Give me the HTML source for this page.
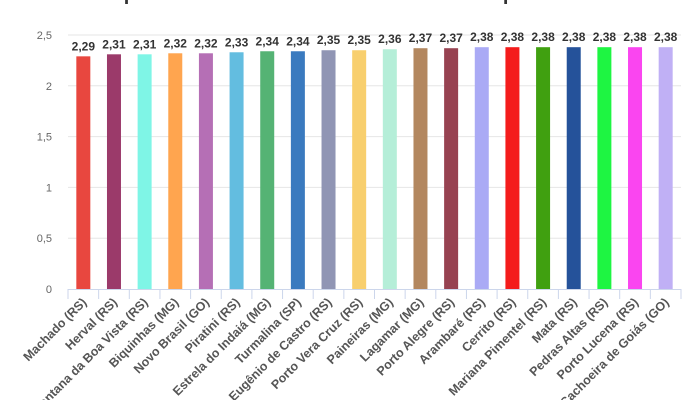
<!DOCTYPE html>
<html><head><meta charset="utf-8"><style>
body{margin:0;background:#fff;}
svg{display:block;font-family:"Liberation Sans",sans-serif;}
</style></head><body>
<svg id="chart" width="700" height="400">
<text x="350" y="0" text-anchor="middle" font-size="20" font-weight="bold" fill="#333">Municípios brasileiros com menos moradores por residência</text>
<g id="grid"></g><g id="bars"></g><g id="xaxis"></g>
</svg>
<script>
const categories=["Machado (RS)","Herval (RS)","Santana da Boa Vista (RS)","Biquinhas (MG)","Novo Brasil (GO)","Piratini (RS)","Estrela do Indaiá (MG)","Turmalina (SP)","Eugênio de Castro (RS)","Porto Vera Cruz (RS)","Paineiras (MG)","Lagamar (MG)","Porto Alegre (RS)","Arambaré (RS)","Cerrito (RS)","Mariana Pimentel (RS)","Mata (RS)","Pedras Altas (RS)","Porto Lucena (RS)","Cachoeira de Goiás (GO)"];
const values=[2.29,2.31,2.31,2.32,2.32,2.33,2.34,2.34,2.35,2.35,2.36,2.37,2.37,2.38,2.38,2.38,2.38,2.38,2.38,2.38];
const yTicks=[0,0.5,1,1.5,2,2.5];
const colors=["#e8473f","#9b3a6a","#7ff5e6","#ffa54f","#b56fb5","#63bde0","#55b374","#3a7abf","#9095b4","#f8cf6e","#b5eed8","#b3875f","#974251","#aaaaf5","#f41c1c","#40a010","#25529a","#1ef542","#fa45f0","#c0b0f5"];
const NS="http://www.w3.org/2000/svg";
const x0=68,x1=681,y0=289,yTop=35,yMax=2.5;
const band=(x1-x0)/categories.length;
const xs=i=>x0+band*i;
const ys=v=>y0-(v/yMax)*(y0-yTop);
function mk(t,a,p){const e=document.createElementNS(NS,t);for(const k in a)e.setAttribute(k,a[k]);p.appendChild(e);return e;}
const grid=document.getElementById('grid'),bars=document.getElementById('bars'),xa=document.getElementById('xaxis');
yTicks.forEach(t=>{
  if(t>0){const l=mk('line',{x1:x0,x2:x1,y1:ys(t),y2:ys(t),stroke:'#e6e6e6','stroke-width':1},grid);
  
  }
  const tx=mk('text',{x:52,y:ys(t)+4,'text-anchor':'end','font-size':11,fill:'#666'},grid);
  tx.textContent=String(t).replace('.',',');
  
  
});
const ax=mk('line',{x1:x0,x2:x1,y1:y0+0.5,y2:y0+0.5,stroke:'#ccd6eb','stroke-width':1},xa);


categories.forEach((c,i)=>{
  const cx=xs(i)+band/2,w=14;
  const r=mk('rect',{x:cx-w/2,y:ys(values[i]),width:w,height:y0-ys(values[i]),fill:colors[i]},bars);
  
  
  const v=mk('text',{x:cx,y:ys(values[i])-6,'text-anchor':'middle','font-size':12,'font-weight':'bold',fill:'#333'},bars);
  v.textContent=values[i].toFixed(2).replace('.',',');
  
  
  const tk=mk('line',{x1:xs(i),x2:xs(i),y1:y0,y2:y0+10,stroke:'#ccd6eb'},xa);
  
  
  const lb=mk('text',{x:0,y:0,'text-anchor':'end','font-size':12.5,'font-weight':'bold',fill:'#555',transform:`translate(${cx+4},${y0+14}) rotate(-45)`},xa);
  lb.textContent=c;
  
  
});
const lt=mk('line',{x1:x1,x2:x1,y1:y0,y2:y0+10,stroke:'#ccd6eb'},xa);


</script>
</body></html>
